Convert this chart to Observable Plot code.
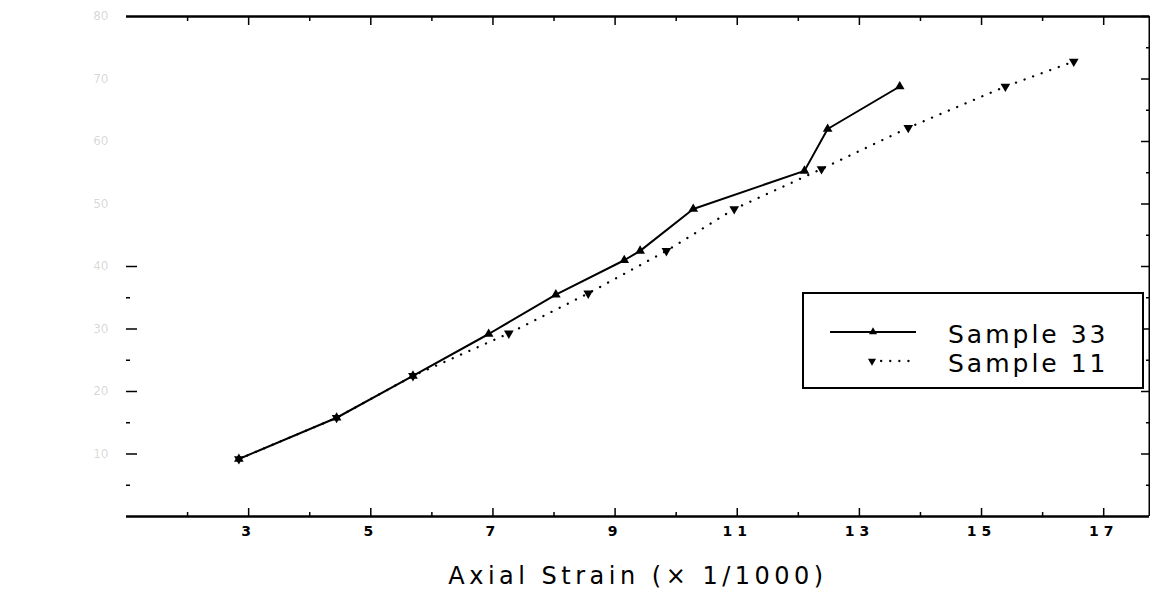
<!DOCTYPE html>
<html>
<head>
<meta charset="utf-8">
<script src="https://cdn.jsdelivr.net/npm/d3@7"></script>
<script src="https://cdn.jsdelivr.net/npm/@observablehq/plot@0.6"></script>
<style>
  html, body { margin: 0; padding: 0; background: #fff; }
  #wrap { position: relative; width: 1150px; height: 590px; overflow: hidden; font-family: "DejaVu Sans", sans-serif; }
  #legend { position: absolute; left: 802px; top: 292px; }
  #legend text { font-family: "DejaVu Sans", sans-serif; font-size: 25px; letter-spacing: 3px; fill: #000; }
</style>
</head>
<body>
<div id="wrap"></div>
<script>
// ---- data ----
const seriesNames = ["Sample 33", "Sample 11"];
const sample33Strain = [2.84, 4.44, 5.69, 6.93, 8.03, 9.15, 9.41, 10.28, 12.10, 12.48, 13.66];
const sample33Stress = [9.2, 15.8, 22.5, 29.2, 35.5, 41.0, 42.5, 49.2, 55.3, 62.0, 68.8];
const sample11Strain = [2.84, 4.44, 5.69, 7.26, 8.56, 9.84, 10.95, 12.38, 13.80, 15.39, 16.51];
const sample11Stress = [9.2, 15.8, 22.5, 29.3, 35.7, 42.5, 49.2, 55.6, 62.2, 68.8, 72.8];

const xDomain = [1, 17.75];
const yDomain = [0, 80];
const xTicksMajor = [3, 5, 7, 9, 11, 13, 15, 17];
const xTicksMinor = [2, 4, 6, 8, 10, 12, 14, 16];
const yTicksMajor = [10, 20, 30, 40, 50, 60, 70, 80];
const yTicksMinor = [5, 15, 25, 35, 45, 55, 65, 75];
const yLeftMajorVisible = [10, 20, 30, 40];
const yLeftMinorVisible = [5, 15, 25, 35];
const xLabel = "Axial Strain (× 1/1000)";

// ---- build tables ----
const s33 = sample33Strain.map((x, i) => ({x, y: sample33Stress[i]}));
const s11 = sample11Strain.map((x, i) => ({x, y: sample11Stress[i]}));

const sqrt3 = Math.sqrt(3);
const triangleDown = {
  draw(context, size) {
    const y = -Math.sqrt(size / (sqrt3 * 3));
    context.moveTo(0, -y * 2);
    context.lineTo(-sqrt3 * y, y);
    context.lineTo(sqrt3 * y, y);
    context.closePath();
  }
};

const noText = () => "";

const chart = Plot.plot({
  width: 1150,
  height: 590,
  marginLeft: 126,
  marginRight: 1,
  marginTop: 16,
  marginBottom: 74,
  style: {background: "#fff", color: "#000", fontFamily: "DejaVu Sans, sans-serif", overflow: "visible"},
  x: {domain: xDomain, label: null},
  y: {domain: yDomain, label: null},
  marks: [
    // frame lines (top, bottom, right)
    Plot.ruleY([yDomain[1]], {stroke: "#000", strokeWidth: 2.5}),
    Plot.ruleY([yDomain[0]], {stroke: "#000", strokeWidth: 2.5}),
    Plot.ruleX([xDomain[1]], {stroke: "#000", strokeWidth: 2}),
    // x ticks inward, bottom and top
    Plot.axisX(xTicksMajor, {anchor: "bottom", tickSize: -8, tickFormat: noText, strokeWidth: 1.5, label: null}),
    Plot.axisX(xTicksMinor, {anchor: "bottom", tickSize: -4, tickFormat: noText, strokeWidth: 1.5, label: null}),
    Plot.axisX(xTicksMajor, {anchor: "top", tickSize: -8, tickFormat: noText, strokeWidth: 1.5, label: null}),
    Plot.axisX(xTicksMinor, {anchor: "top", tickSize: -4, tickFormat: noText, strokeWidth: 1.5, label: null}),
    Plot.axisX(xTicksMajor, {anchor: "bottom", tickSize: 0, tickPadding: 10, fontSize: 14, fontWeight: "bold", label: null}),
    // y ticks inward, left (only lower part survives) and right
    Plot.axisY(yLeftMajorVisible, {anchor: "left", tickSize: -11, tickFormat: noText, strokeWidth: 1.5, label: null}),
    Plot.axisY(yLeftMinorVisible, {anchor: "left", tickSize: -4, tickFormat: noText, strokeWidth: 1.5, label: null}),
    Plot.axisY(yTicksMajor, {anchor: "right", tickSize: -9, tickFormat: noText, strokeWidth: 1.5, label: null}),
    Plot.axisY(yTicksMinor, {anchor: "right", tickSize: -4, tickFormat: noText, strokeWidth: 1.5, label: null}),
    // faded y tick labels
    Plot.axisY(yTicksMajor, {anchor: "left", tickSize: 0, tickPadding: 18, fontSize: 12, fillOpacity: 0.18, label: null}),
    // x axis title
    Plot.text([xLabel], {frameAnchor: "bottom", lineAnchor: "middle", dy: 60, fontSize: 24, fill: "#000"}),
    // series
    Plot.line(s11, {x: "x", y: "y", stroke: "#000", strokeWidth: 2.3, strokeDasharray: "0.1 9", strokeLinecap: "round"}),
    Plot.line(s33, {x: "x", y: "y", stroke: "#000", strokeWidth: 2}),
    Plot.dot(s11, {x: "x", y: "y", symbol: triangleDown, r: 3.6, fill: "#000", stroke: "none"}),
    Plot.dot(s33, {x: "x", y: "y", symbol: "triangle", r: 3.6, fill: "#000", stroke: "none"})
  ]
});

const wrap = document.getElementById("wrap");
wrap.appendChild(chart);
chart.querySelectorAll('[aria-label="x-axis tick label"] text').forEach(t => t.setAttribute("letter-spacing", "5"));
chart.querySelectorAll('[aria-label="text"] text').forEach(t => t.setAttribute("letter-spacing", "4.5"));

// ---- legend (inside the plot area, as in the reference) ----
const ns = "http://www.w3.org/2000/svg";
const lg = document.createElementNS(ns, "svg");
lg.setAttribute("id", "legend");
lg.setAttribute("width", 342);
lg.setAttribute("height", 97);
const el = (name, attrs, text) => {
  const e = document.createElementNS(ns, name);
  for (const k in attrs) e.setAttribute(k, attrs[k]);
  if (text != null) e.textContent = text;
  lg.appendChild(e);
  return e;
};
el("rect", {x: 1, y: 1, width: 340, height: 95, fill: "#fff", stroke: "#000", "stroke-width": 2});
// entry 1: solid line + triangle
el("line", {x1: 28, x2: 114, y1: 40, y2: 40, stroke: "#000", "stroke-width": 2});
const up = d3.symbol(d3.symbolTriangle, 28)();
el("path", {d: up, transform: "translate(71,40)", fill: "#000"});
el("text", {x: 146, y: 51}, seriesNames[0]);
// entry 2: dotted + triangle down
el("line", {x1: 70, x2: 108, y1: 69, y2: 69, stroke: "#000", "stroke-width": 2.3, "stroke-dasharray": "0.1 9", "stroke-linecap": "round"});
const down = d3.symbol(triangleDown, 28)();
el("path", {d: down, transform: "translate(70,69)", fill: "#000"});
el("text", {x: 146, y: 80}, seriesNames[1]);
wrap.appendChild(lg);
</script>
</body>
</html>
